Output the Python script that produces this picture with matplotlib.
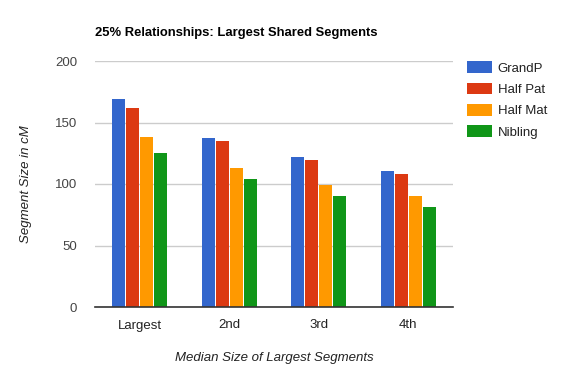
import numpy as np
import matplotlib
matplotlib.use("Agg")
import matplotlib.pyplot as plt
from matplotlib.patches import Patch

plt.rcParams['font.family'] = ['Liberation Sans', 'DejaVu Sans']

# Data
categories = ["Largest", "2nd", "3rd", "4th"]
series_names = ["GrandP", "Half Pat", "Half Mat", "Nibling"]
grandp = [169, 137.5, 122, 110.5]
half_pat = [162, 135, 119.5, 108]
half_mat = [138, 113, 99, 90.5]
nibling = [125, 104, 90.5, 81.5]
colors = ["#3366cc", "#dc3912", "#ff9900", "#109618"]

fig = plt.figure(figsize=(5.65, 3.77), dpi=100)
ax = fig.add_axes([95 / 565, 1 - 307 / 377, 358 / 565, 246 / 377])

x = np.arange(len(categories))
step = 14 / 89.5
width = 13 / 89.5
for i, vals in enumerate([grandp, half_pat, half_mat, nibling]):
    ax.bar(x + (i - 1.5) * step, vals, width, color=colors[i], zorder=3)

ax.set_xlim(-0.5, 3.5)
ax.set_ylim(0, 200)
ax.set_yticks([0, 50, 100, 150, 200])
ax.set_xticks(x)
ax.set_xticklabels(categories)
ax.yaxis.grid(True, color="#cccccc", linewidth=1, zorder=0)
ax.tick_params(axis='both', length=0, labelsize=9.5, colors="#444444")
ax.tick_params(axis='x', pad=9, labelcolor="#222222")
ax.tick_params(axis='y', pad=13)
for s in ["top", "right", "left"]:
    ax.spines[s].set_visible(False)
ax.spines["bottom"].set_color("#333333")
ax.spines["bottom"].set_linewidth(1.2)
ax.spines["bottom"].set_zorder(4)

ax.set_ylabel("Segment Size in cM", fontsize=9.5, style="italic", color="#222222", labelpad=16)
ax.set_xlabel("Median Size of Largest Segments", fontsize=9.5, style="italic", color="#222222", labelpad=15)

fig.text(95 / 565, 1 - 33 / 377, "25% Relationships: Largest Shared Segments",
         fontsize=9.35, fontweight="bold", color="#000000", va="center", ha="left")

handles = [Patch(facecolor=c, edgecolor="none") for c in colors]
fig.legend(handles, series_names, loc="upper left", bbox_to_anchor=(462 / 565, 1 - 56 / 377),
           frameon=False, fontsize=9.5, handlelength=1.9, handleheight=1.0,
           handletextpad=0.4, labelspacing=0.6, borderaxespad=0, labelcolor="#222222")

fig.savefig("out.png", dpi=100)
